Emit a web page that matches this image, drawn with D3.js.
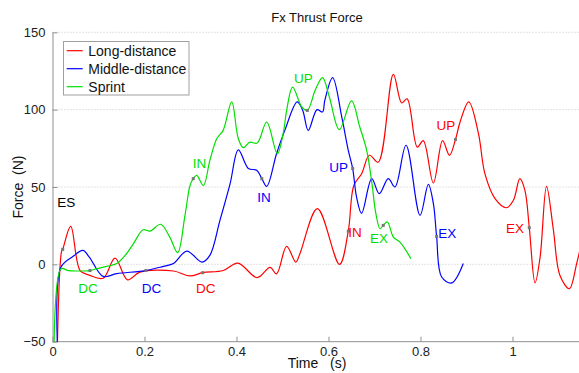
<!DOCTYPE html>
<html>
<head>
<meta charset="utf-8">
<script src="https://cdn.jsdelivr.net/npm/d3@7"></script>
<style>
body { margin: 0; background: #fff; }
text { font-family: "Liberation Sans", Arial, sans-serif; }
</style>
</head>
<body>
<script>
var W = 579, H = 373;
var margin = {left: 52.5, right: -2.5, top: 32.3, bottom: 31.3};

// Long-distance (red): [time s, force N]
var longT = [0.010, 0.0195, 0.0222, 0.0396, 0.060, 0.080, 0.110, 0.136, 0.163, 0.190, 0.263, 0.299, 0.3265, 0.371, 0.403, 0.445, 0.473, 0.487, 0.509, 0.529, 0.538, 0.576, 0.624, 0.643, 0.655, 0.672, 0.689, 0.708, 0.741, 0.759, 0.771, 0.793, 0.806, 0.828, 0.848, 0.863, 0.876, 0.886, 0.905, 0.926, 0.940, 0.962, 0.987, 1.002, 1.016, 1.027, 1.0365, 1.049, 1.060, 1.074, 1.089, 1.103, 1.1235, 1.1395, 1.151];
var longF = [-60, 8, 9.7, 24.6, -4, -7, -9, 4, -10, -5, -4.3, -7.5, -5.4, -4, 0.8, -8.6, -2, -6.2, 11.6, 1.5, 7, 36, 0, 21.5, 51, 58.6, 70.5, 66, 122.8, 104.3, 107, 75.8, 80, 52.6, 80, 70.5, 80.7, 92, 105, 84.5, 58.6, 42.5, 36.6, 41.4, 55.4, 47.8, 23.7, -12, 4.7, 50.4, 22, -7, -15.7, 0.5, 15.5];

// Middle-distance (blue)
var midT = [0.012, 0.018, 0.045, 0.066, 0.080, 0.110, 0.1396, 0.203, 0.241, 0.263, 0.292, 0.325, 0.342, 0.364, 0.386, 0.404, 0.4257, 0.444, 0.455, 0.4657, 0.487, 0.505, 0.532, 0.544, 0.556, 0.575, 0.587, 0.592, 0.609, 0.629, 0.643, 0.6526, 0.661, 0.672, 0.694, 0.7104, 0.730, 0.7446, 0.7685, 0.799, 0.817, 0.828, 0.835, 0.846, 0.868, 0.893];
var midF = [-60, -2, 5.2, 9, 4.7, -7.8, -6, -4, -1.3, 0.5, 8.6, 1.5, 5.8, 28.4, 52, 74, 62, 60.8, 55.4, 50.4, 71.5, 86.6, 105, 99.5, 86.6, 100, 98.5, 106, 120.7, 95, 73.7, 61.9, 43.5, 33, 55.4, 45.7, 55.4, 50, 77, 31.7, 51.7, 39.2, 18.1, -8.2, -12, 0.5];

// Sprint (green)
var sprT = [0.003, 0.0185, 0.034, 0.053, 0.0815, 0.096, 0.118, 0.1396, 0.158, 0.176, 0.197, 0.212, 0.235, 0.255, 0.272, 0.288, 0.299, 0.306, 0.3135, 0.328, 0.342, 0.357, 0.371, 0.3896, 0.404, 0.415, 0.429, 0.445, 0.4657, 0.4887, 0.502, 0.509, 0.522, 0.542, 0.554, 0.571, 0.587, 0.602, 0.6235, 0.650, 0.668, 0.683, 0.694, 0.703, 0.712, 0.719, 0.728, 0.741, 0.7554, 0.779];
var sprF = [-70, -2.8, -4, -4.3, -4, -2.8, -1.3, 0.5, 5.8, 13.4, 22.4, 21.5, 25.9, 17.6, 7.6, 31.7, 51, 55.4, 57.5, 51, 67, 81.2, 86.6, 105, 81.2, 75.4, 79, 78.4, 92, 71.5, 85.5, 99.5, 114.6, 101.7, 99.5, 112.5, 120.7, 108, 87, 105.7, 88.8, 73.7, 53.2, 32.8, 23, 25.2, 27.4, 17.6, 14.4, 3.7];

var seriesNames = ["Long-distance", "Middle-distance", "Sprint"];
var seriesColors = ["#ff0000", "#0000ff", "#00e000"];

// phase labels: text, series index (-1 = black), time, force
var labelText = ["ES", "DC", "DC", "DC", "IN", "IN", "IN", "UP", "UP", "UP", "EX", "EX", "EX"];
var labelSeries = [-1, 2, 1, 0, 2, 1, 0, 2, 1, 0, 2, 1, 0];
var labelT = [0.0105, 0.056, 0.194, 0.312, 0.3048, 0.445, 0.643, 0.525, 0.6017, 0.835, 0.690, 0.8387, 0.986];
var labelF = [37.0, -18.4, -18.4, -18.4, 62.1, 40.4, 17.5, 117, 59.8, 86.6, 13.9, 16.8, 20.4];

// phase event markers on the curves
var markT = [0.0222, 0.0815, 0.203, 0.3265, 0.306, 0.455, 0.643, 0.554, 0.6526, 0.876, 0.719, 0.835, 1.0365];
var markF = [9.7, -4, -4, -5.4, 55.4, 55.4, 21.5, 99.5, 62, 80.7, 25.2, 18.1, 23.7];

var xTicks = [0, 0.2, 0.4, 0.6, 0.8, 1];
var yTicks = [-50, 0, 50, 100, 150];

var svg = d3.select("body").append("svg")
    .attr("width", W)
    .attr("height", H);

var x = d3.scaleLinear().domain([0, 1.15]).range([margin.left, W - margin.right]);
var y = d3.scaleLinear().domain([-50, 150]).range([H - margin.bottom, margin.top]);

svg.append("defs").append("clipPath").attr("id", "plotclip")
    .append("rect")
    .attr("x", x(0)).attr("y", y(150))
    .attr("width", x(1.15) - x(0)).attr("height", y(-50) - y(150));

// grid (horizontal dotted)
svg.selectAll("line.grid")
    .data(yTicks.filter(function(d) { return d > -50; }))
    .enter().append("line")
    .attr("class", "grid")
    .attr("x1", x(0)).attr("x2", W)
    .attr("y1", function(d) { return y(d); })
    .attr("y2", function(d) { return y(d); })
    .style("stroke", "#c8c8c8")
    .style("stroke-width", 1)
    .style("stroke-dasharray", "1,2");

// axes
var xAxis = d3.axisBottom(x).tickValues(xTicks).tickSizeInner(-5).tickSizeOuter(0).tickPadding(5)
    .tickFormat(function(d) { return d3.format("~g")(d); });
var yAxis = d3.axisLeft(y).tickValues(yTicks).tickSizeInner(-5).tickSizeOuter(0).tickPadding(7);

var gx = svg.append("g").attr("transform", "translate(0," + y(-50) + ")").call(xAxis);
var gy = svg.append("g").attr("transform", "translate(" + x(0) + ",0)").call(yAxis);
[gx, gy].forEach(function(g) {
  g.select(".domain").style("stroke", "#909090");
  g.selectAll(".tick line").style("stroke", "#909090");
  g.selectAll(".tick text").style("font-size", "13px").style("fill", "#222")
    .style("font-family", "'Liberation Sans', Arial, sans-serif");
});
gx.select(".domain").attr("d", "M" + x(0) + ",0H" + W);

// lines
var line = d3.line()
    .x(function(d) { return x(d[0]); })
    .y(function(d) { return y(d[1]); })
    .curve(d3.curveCatmullRom.alpha(0.5));

var seriesData = [d3.zip(longT, longF), d3.zip(midT, midF), d3.zip(sprT, sprF)];

var plot = svg.append("g").attr("clip-path", "url(#plotclip)");
plot.selectAll("path.series")
    .data(seriesData)
    .enter().append("path")
    .attr("class", "series")
    .attr("d", line)
    .style("fill", "none")
    .style("stroke", function(d, i) { return seriesColors[i]; })
    .style("stroke-width", 1.2);

// event markers
plot.selectAll("rect.mark")
    .data(d3.zip(markT, markF))
    .enter().append("rect")
    .attr("class", "mark")
    .attr("x", function(d) { return x(d[0]) - 1.5; })
    .attr("y", function(d) { return y(d[1]) - 1.5; })
    .attr("width", 3).attr("height", 3)
    .style("fill", "#777");

// phase labels
svg.selectAll("text.phase")
    .data(d3.range(labelText.length))
    .enter().append("text")
    .attr("class", "phase")
    .attr("x", function(i) { return x(labelT[i]); })
    .attr("y", function(i) { return y(labelF[i]); })
    .style("font-size", "13.5px")
    .style("fill", function(i) { return labelSeries[i] < 0 ? "#000" : seriesColors[labelSeries[i]]; })
    .text(function(i) { return labelText[i]; });

// title and axis labels
svg.append("text").attr("x", (x(0) + x(1.15)) / 2).attr("y", 22)
    .attr("text-anchor", "middle").style("font-size", "13px").style("fill", "#111")
    .text("Fx Thrust Force");
svg.append("text").attr("x", 317).attr("y", 368)
    .attr("text-anchor", "middle").style("font-size", "14px").style("fill", "#111")
    .style("white-space", "pre").attr("xml:space", "preserve")
    .text("Time   (s)");
svg.append("text").attr("transform", "translate(23," + ((y(150) + y(-50)) / 2) + ") rotate(-90)")
    .attr("text-anchor", "middle").style("font-size", "14px").style("fill", "#111")
    .style("white-space", "pre").attr("xml:space", "preserve")
    .text("Force  (N)");

// legend
var leg = svg.append("g");
leg.append("rect").attr("x", 63.5).attr("y", 41.5).attr("width", 125.5).attr("height", 53.5)
    .style("fill", "#fff").style("stroke", "#a0a0a0").style("stroke-width", 1);
var legRows = leg.selectAll("g.row").data(seriesNames).enter().append("g")
    .attr("transform", function(d, i) { return "translate(0," + (50.7 + i * 18) + ")"; });
legRows.append("line").attr("x1", 66.7).attr("x2", 82.7).attr("y1", 0).attr("y2", 0)
    .style("stroke", function(d, i) { return seriesColors[i]; }).style("stroke-width", 1.2);
legRows.append("text").attr("x", 88.3).attr("y", 5)
    .style("font-size", "14px").style("fill", "#111")
    .text(function(d) { return d; });
</script>
</body>
</html>
